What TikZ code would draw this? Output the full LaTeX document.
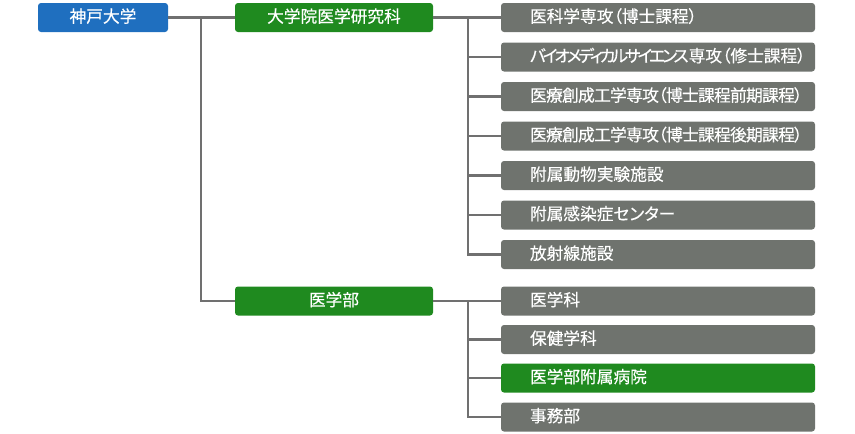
\documentclass[tikz,border=0pt]{standalone}
\usepackage{fontspec}
\newfontfamily\jp{Noto Sans CJK JP}[RawFeature={+palt}, FakeBold=0.4]
\newfontfamily\jpk{Noto Sans CJK JP}[RawFeature={+palt}, FakeBold=0.4, LetterSpace=-18]
\definecolor{kblue}{HTML}{1F6FBF}
\definecolor{kgreen}{HTML}{1F8A1F}
\definecolor{kgray}{HTML}{6F736E}
\definecolor{kline}{HTML}{707070}
\newcommand{\gl}[1]{\makebox[314pt][l]{\hspace*{29pt}#1}}
\newcommand{\nar}[1]{{\jp\addfontfeature{LetterSpace=-4}#1}}
\tikzset{
  box/.style={rounded corners=3pt, text=white, inner xsep=0pt, inner ysep=0pt,
    minimum height=29pt, text height=13pt, text depth=3pt,
    font=\jp\fontsize{16.7}{19}\selectfont},
  topbox/.style={box, minimum width=#1},
  subbox/.style={box, fill=kgray},
  conn/.style={draw=kline, line width=2.5pt}
}
\begin{document}
\begin{tikzpicture}[x=1pt, y=-1pt]
\useasboundingbox (0,0) rectangle (855,434);
\node[topbox=130pt, fill=kblue] (kobe) at (103,17.5) {神戸大学};
\node[topbox=198pt, fill=kgreen] (grad) at (334,17.5) {大学院医学研究科};
\node[topbox=198pt, fill=kgreen] (fac) at (334,301) {医学部};
\node[subbox] (g1) at (658,17.5) {\gl{医科学専攻（博士課程）}};
\node[subbox] (g2) at (658,57) {\gl{{\jpk バイオメディカルサイエンス}専攻（修士課程）}};
\node[subbox] (g3) at (658,96.5) {\gl{\nar{医療創成工学専攻（博士課程前期課程）}}};
\node[subbox] (g4) at (658,136) {\gl{\nar{医療創成工学専攻（博士課程後期課程）}}};
\node[subbox] (g5) at (658,175.5) {\gl{附属動物実験施設}};
\node[subbox] (g6) at (658,215) {\gl{附属感染症センター}};
\node[subbox] (g7) at (658,254.5) {\gl{放射線施設}};
\node[subbox] (f1) at (658,301) {\gl{医学科}};
\node[subbox] (f2) at (658,339.5) {\gl{保健学科}};
\node[subbox, fill=kgreen] (f3) at (658,378) {\gl{医学部附属病院}};
\node[subbox] (f4) at (658,417) {\gl{事務部}};
\coordinate (jA) at (201,17.5);
\coordinate (jB) at (468,17.5);
\coordinate (jC) at (468,301);
\begin{scope}[on background layer/.try]
\draw[conn] (kobe.east) -- (grad.west);
\draw[conn] (jA) |- (fac.west);
\draw[conn] (grad.east) -- (g1.west);
\foreach \n in {g2,g3,g4,g5,g6,g7} \draw[conn] (jB) |- (\n.west);
\draw[conn] (fac.east) -- (f1.west);
\foreach \n in {f2,f3,f4} \draw[conn] (jC) |- (\n.west);
\end{scope}
\end{tikzpicture}
\end{document}
